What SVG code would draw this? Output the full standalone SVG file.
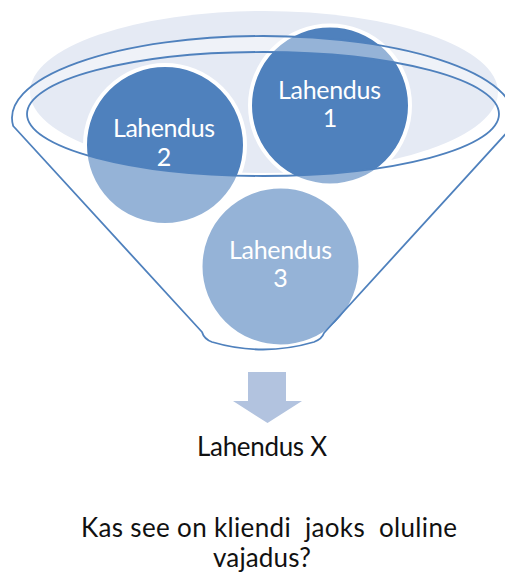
<svg xmlns="http://www.w3.org/2000/svg" width="505" height="573" viewBox="0 0 505 573">
  <style>
    .disc { fill: #4f81bd; stroke: #ffffff; stroke-width: 4; }
    .disc-label { font-family: Lato, "Open Sans", "Liberation Sans", sans-serif; font-size: 25px; fill: #ffffff; text-anchor: middle; }
    .caption { font-family: Lato, "Open Sans", "Liberation Sans", sans-serif; font-size: 26px; fill: #111111; text-anchor: middle; }
    .funnel { fill: #ffffff; fill-opacity: 0.4; fill-rule: evenodd; stroke: #4f81bd; stroke-width: 1.8; stroke-linejoin: round; }
  </style>

  <!-- pale backdrop behind the funnel mouth -->
  <ellipse id="backdrop" cx="264" cy="92" rx="234" ry="81" fill="#e5eaf4"/>

  <!-- solution discs -->
  <g id="node-1">
    <circle class="disc" cx="330" cy="105.5" r="80"/>
  </g>
  <g id="node-2">
    <circle class="disc" cx="165" cy="145" r="80"/>
  </g>
  <g id="node-3">
    <circle class="disc" cx="280.5" cy="266.5" r="80"/>
  </g>

  <!-- funnel body: outer outline with the open mouth cut out -->
  <g id="funnel">
    <path class="funnel" d="M 13.2,126 A 251,82 0 1 1 512.8,126 L 324,333 Q 322,339 314,342 Q 263,357 212,342 Q 204,339 202,332 Z M 27,114 A 236,62 0 1 0 499,114 A 236,62 0 1 0 27,114 Z"/>
  </g>

  <!-- disc labels -->
  <g id="labels">
    <text class="disc-label" x="329.5" y="99" textLength="103">Lahendus</text>
    <text class="disc-label" x="330" y="127">1</text>
    <text class="disc-label" x="164" y="137" textLength="102">Lahendus</text>
    <text class="disc-label" x="164" y="166">2</text>
    <text class="disc-label" x="280.5" y="259" textLength="103">Lahendus</text>
    <text class="disc-label" x="280.5" y="287">3</text>
  </g>

  <!-- output arrow -->
  <g id="connectors">
    <path d="M 248,372 L 286,372 L 286,401 L 302,401 L 267.5,423 L 233,401 L 248,401 Z" fill="#b2c3df"/>
  </g>

  <g id="result">
    <text class="caption" x="262" y="456" textLength="130">Lahendus X</text>
  </g>

  <g id="question">
    <text class="caption" x="269" y="537" textLength="376" xml:space="preserve">Kas see on kliendi  jaoks  oluline</text>
    <text class="caption" x="262" y="567" textLength="98">vajadus?</text>
  </g>
</svg>
